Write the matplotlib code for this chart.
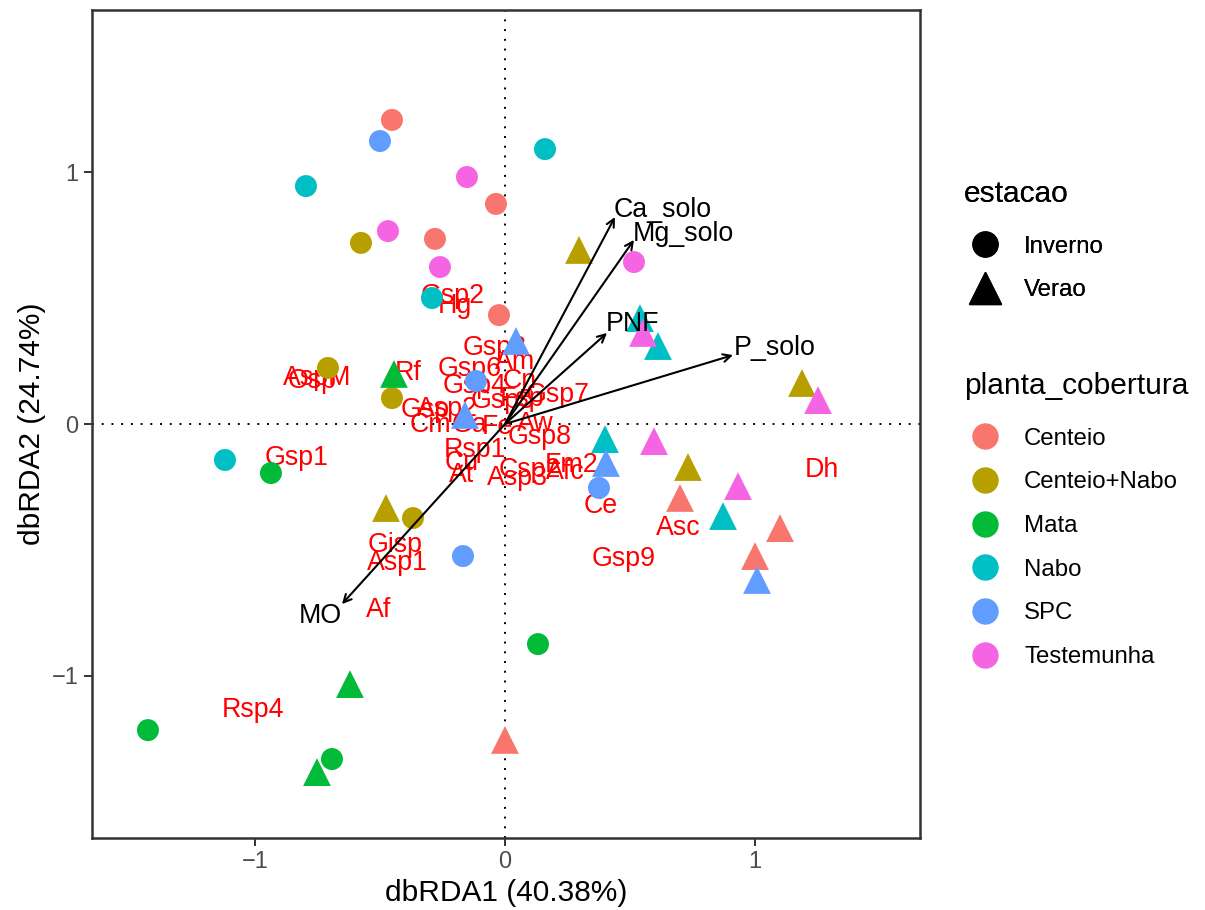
import matplotlib.pyplot as plt
from matplotlib.lines import Line2D

plt.rcParams['font.family'] = ['Liberation Sans', 'DejaVu Sans']

# cover crop groups and ggplot hue colours
groups = ['Centeio', 'Centeio+Nabo', 'Mata', 'Nabo', 'SPC', 'Testemunha']
colors = ['#F8766D', '#B79F00', '#00BA38', '#00BFC4', '#619CFF', '#F564E3']

# site scores, winter samples (circles)
inv_group = ['Centeio'] * 4 + ['Centeio+Nabo'] * 4 + ['Mata'] * 4 + ['Nabo'] * 4 + ['SPC'] * 4 + ['Testemunha'] * 4
inv_x = [-0.452, -0.036, -0.280, -0.024,
         -0.576, -0.708, -0.452, -0.368,
         -0.936, -1.428, -0.692, 0.132,
         -0.796, 0.160, -0.292, -1.120,
         -0.500, -0.116, -0.168, 0.376,
         -0.152, -0.468, -0.260, 0.516]
inv_y = [1.209, 0.875, 0.736, 0.433,
         0.720, 0.223, 0.103, -0.374,
         -0.195, -1.217, -1.332, -0.875,
         0.946, 1.093, 0.501, -0.143,
         1.125, 0.171, -0.525, -0.254,
         0.982, 0.767, 0.624, 0.644]

# site scores, summer samples (triangles)
ver_group = ['Centeio'] * 4 + ['Centeio+Nabo'] * 4 + ['Mata'] * 3 + ['Nabo'] * 4 + ['SPC'] * 4 + ['Testemunha'] * 4
ver_x = [0.000, 0.700, 1.000, 1.100,
         0.296, 1.188, -0.476, 0.732,
         -0.444, -0.620, -0.752,
         0.540, 0.612, 0.400, 0.872,
         0.044, -0.160, 0.404, 1.008,
         0.552, 1.252, 0.596, 0.932]
ver_y = [-1.256, -0.294, -0.525, -0.414,
         0.692, 0.163, -0.334, -0.171,
         0.199, -1.034, -1.384,
         0.421, 0.310, -0.060, -0.366,
         0.330, 0.036, -0.155, -0.620,
         0.362, 0.095, -0.068, -0.247]

# species scores (red labels)
sp_names = ['Gsp2', 'Hg', 'Osp', 'AspM', 'Rf', 'Gsp3', 'Am', 'Gsp6', 'Cn', 'Gsp7',
            'Gsp4', 'Asp2', 'Gsp5', 'Fsp', 'Gsp', 'Cm', 'Ga', 'Fe', 'Aw', 'Gsp8',
            'Rsp1', 'Cu', 'At', 'Csp2', 'Asp3', 'Fm2', 'Afc', 'Ce', 'Asc', 'Dh',
            'Gsp9', 'Gisp', 'Asp1', 'Af', 'Rsp4', 'Gsp1']
sp_x = [-0.208, -0.200, -0.772, -0.752, -0.388, -0.040, 0.040, -0.140, 0.060, 0.210,
        -0.120, -0.230, -0.010, 0.070, -0.320, -0.300, -0.140, -0.032, 0.120, 0.140,
        -0.120, -0.172, -0.172, 0.100, 0.048, 0.268, 0.240, 0.384, 0.692, 1.268,
        0.476, -0.440, -0.432, -0.504, -1.008, -0.832]
sp_y = [0.509, 0.469, 0.171, 0.183, 0.203, 0.302, 0.247, 0.219, 0.170, 0.115,
        0.150, 0.060, 0.090, 0.100, 0.056, -0.004, -0.004, -0.012, 0.000, -0.052,
        -0.103, -0.155, -0.203, -0.183, -0.215, -0.163, -0.191, -0.326, -0.414, -0.183,
        -0.537, -0.481, -0.553, -0.740, -1.137, -0.135]

# environmental vectors (arrow tips and label positions)
env_names = ['Ca_solo', 'Mg_solo', 'PNF', 'P_solo', 'MO']
env_x = [0.440, 0.516, 0.408, 0.912, -0.652]
env_y = [0.823, 0.732, 0.362, 0.274, -0.716]
env_lx = [0.632, 0.712, 0.512, 1.080, -0.740]
env_ly = [0.851, 0.755, 0.398, 0.302, -0.763]

fig = plt.figure(figsize=(12.05, 9.1), dpi=100)
ax = fig.add_axes([0.0763, 0.0791, 0.6872, 0.9099])

ax.axhline(0, color='black', linestyle=(0, (1, 4)), linewidth=1.4, zorder=1)
ax.axvline(0, color='black', linestyle=(0, (1, 4)), linewidth=1.4, zorder=1)

for name, x, y in zip(sp_names, sp_x, sp_y):
    ax.text(x, y, name, color='red', fontsize=19.3, ha='center', va='center', zorder=2)

for g, c in zip(groups, colors):
    xs = [x for x, gg in zip(inv_x, inv_group) if gg == g]
    ys = [y for y, gg in zip(inv_y, inv_group) if gg == g]
    ax.scatter(xs, ys, s=250, marker='o', color=c, edgecolors='none', zorder=3)
    xs = [x for x, gg in zip(ver_x, ver_group) if gg == g]
    ys = [y for y, gg in zip(ver_y, ver_group) if gg == g]
    ax.scatter(xs, ys, s=400, marker='^', color=c, edgecolors='none', zorder=3)

for name, x, y, lx, ly in zip(env_names, env_x, env_y, env_lx, env_ly):
    ax.annotate('', xy=(x, y), xytext=(0, 0), zorder=4,
                arrowprops=dict(arrowstyle='->', color='black', lw=1.5,
                                shrinkA=0, shrinkB=0, mutation_scale=14))
    ax.text(lx, ly, name, color='black', fontsize=19.3, ha='center', va='center', zorder=4)

ax.set_xlim(-1.652, 1.66)
ax.set_ylim(-1.646, 1.646)
ax.set_xticks([-1, 0, 1])
ax.set_yticks([-1, 0, 1])
ax.set_xticklabels(['\u22121', '0', '1'])
ax.set_yticklabels(['\u22121', '0', '1'])
ax.tick_params(colors='#333333', labelcolor='#4D4D4D', labelsize=17, length=6, width=1.4)
for sp in ax.spines.values():
    sp.set_color('#333333')
    sp.set_linewidth(1.8)
ax.set_xlabel('dbRDA1 (40.38%)', fontsize=21.5, labelpad=4)
ax.set_ylabel('dbRDA2 (24.74%)', fontsize=21.5, labelpad=4)

# legends
season_handles = [Line2D([], [], marker='o', color='black', linestyle='', markersize=18),
                  Line2D([], [], marker='^', color='black', linestyle='', markersize=23)]
leg1 = fig.legend(season_handles, ['Inverno', 'Verao'], title='estacao',
                  loc='upper left', bbox_to_anchor=(0.782, 0.826), frameon=False,
                  fontsize=17.3, title_fontsize=21.5, alignment='left',
                  labelspacing=0.9, handletextpad=0.78, handlelength=1.73)
group_handles = [Line2D([], [], marker='o', color=c, linestyle='', markersize=18) for c in colors]
leg2 = fig.legend(group_handles, groups, title='planta_cobertura',
                  loc='upper left', bbox_to_anchor=(0.782, 0.615), frameon=False,
                  fontsize=17.3, title_fontsize=21.5, alignment='left',
                  labelspacing=0.9, handletextpad=0.78, handlelength=1.73)
# a bit more room between legend titles and their keys
for leg in (leg1, leg2):
    leg._legend_box.sep += 4.5
fig.add_artist(leg1)

fig.savefig('out.png', dpi=100)
